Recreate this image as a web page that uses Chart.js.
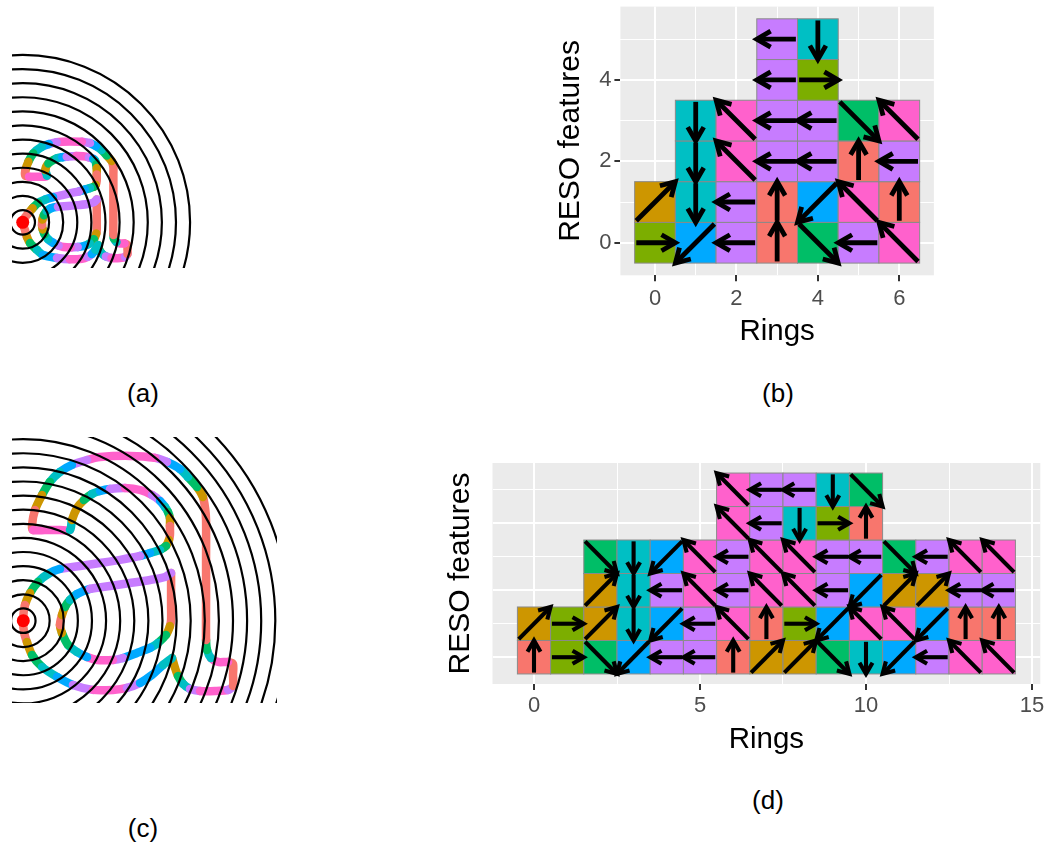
<!DOCTYPE html>
<html lang="en">
<head>
<meta charset="utf-8">
<title>RESO features by ring</title>
<script src="https://cdn.jsdelivr.net/npm/chart.js@4.4.1/dist/chart.umd.min.js"></script>
<style>
  html, body { margin: 0; padding: 0; background: #ffffff; }
  body { position: relative; width: 1057px; height: 844px; overflow: hidden;
         font-family: "Liberation Sans", Arial, sans-serif; }
  canvas { position: absolute; }
  .caption { position: absolute; font-size: 26px; line-height: 1; color: #000;
             transform: translate(-50%, -50%); white-space: nowrap; }
</style>
</head>
<body>
<canvas id="trackA" width="184" height="216" style="left:12px;top:52px"></canvas>
<canvas id="tilesB" width="400" height="370" style="left:540px;top:-20px"></canvas>
<canvas id="trackC" width="265" height="266" style="left:12px;top:437px"></canvas>
<canvas id="tilesD" width="627" height="310" style="left:430px;top:450px"></canvas>
<div class="caption" style="left:143px;top:393px">(a)</div>
<div class="caption" style="left:778px;top:393px">(b)</div>
<div class="caption" style="left:143px;top:828px">(c)</div>
<div class="caption" style="left:768px;top:800px">(d)</div>
<script>
// ---- heading palette and unit vectors -------------------------------------
const headingColors = {
  N: '#F8766D', NE: '#CD9600', E: '#7CAE00', SE: '#00BE67',
  S: '#00BFC4', SW: '#00A9FF', W: '#C77CFF', NW: '#FF61CC'
};
const headingVectors = {
  N: [0, 1], NE: [1, 1], E: [1, 0], SE: [1, -1],
  S: [0, -1], SW: [-1, -1], W: [-1, 0], NW: [-1, 1]
};

// ---- (a) short trajectory, in ring units around the origin ----------------
const ringRadiiA = [0.87, 1.87, 2.87, 3.87, 4.87, 5.87, 6.87, 7.87, 8.87, 9.87, 10.87, 11.87];
const originA = [{ x: 0, y: 0 }];
const trackA = [
  [5.34, -1.61, 'NE'], [5.42, -1.92, 'SE'], [5.60, -2.20, 'S'], [5.90, -2.42, 'W'],
  [6.30, -2.53, 'NW'], [6.90, -2.53, 'NW'], [7.25, -2.46, 'W'], [7.43, -2.25, 'N'],
  [7.43, -1.90, 'N'], [7.43, -1.62, 'N'], [7.22, -1.50, 'NW'], [6.92, -1.50, 'NW'],
  [6.65, -1.40, 'S'], [6.47, -1.15, 'SE'], [6.43, -0.90, 'N'], [6.43, 0.50, 'N'],
  [6.43, 2.00, 'N'], [6.43, 3.40, 'N'], [6.43, 3.92, 'N'], [6.30, 4.35, 'NE'],
  [5.96, 4.74, 'SE'], [5.60, 5.13, 'S'], [5.20, 5.40, 'SW'], [4.77, 5.62, 'W'],
  [4.20, 5.72, 'NW'], [3.35, 5.74, 'NW'], [2.80, 5.72, 'NW'], [2.41, 5.68, 'W'],
  [1.85, 5.55, 'SW'], [1.35, 5.36, 'S'], [0.75, 4.89, 'SE'], [0.40, 4.30, 'NE'],
  [0.18, 3.65, 'N'], [0.20, 3.28, 'N'], [0.45, 3.23, 'NW'], [1.00, 3.23, 'NW'],
  [1.55, 3.23, 'NW'], [1.72, 3.30, 'S'], [1.60, 3.71, 'NE'], [1.82, 4.18, 'SE'],
  [2.41, 4.54, 'S'], [2.80, 4.62, 'SW'], [3.12, 4.65, 'W'], [3.80, 4.70, 'NW'],
  [4.30, 4.68, 'NW'], [4.70, 4.60, 'W'], [5.00, 4.50, 'SW'], [5.13, 4.38, 'S'],
  [5.22, 4.10, 'SE'], [5.25, 3.85, 'NE'], [5.25, 3.40, 'N'], [5.25, 2.95, 'N'],
  [5.18, 2.65, 'NE'], [5.05, 2.52, 'SE'], [4.77, 2.43, 'S'], [4.40, 2.32, 'SW'],
  [4.00, 2.20, 'W'], [3.40, 2.07, 'W'], [2.80, 1.93, 'W'], [2.15, 1.79, 'SW'],
  [1.60, 1.62, 'S'], [1.09, 1.37, 'SE'], [0.70, 1.00, 'NE'], [0.38, 0.62, 'N'],
  [0.10, 0.25, 'N'], [0.02, -0.10, 'N'], [0.16, -0.55, 'N'], [0.30, -1.04, 'NE'],
  [0.52, -1.47, 'SE'], [1.01, -1.96, 'S'], [1.44, -2.32, 'SW'], [2.43, -2.53, 'W'],
  [3.35, -2.62, 'NW'], [4.20, -2.58, 'NW'], [4.60, -2.45, 'W'], [4.90, -2.25, 'SW'],
  [5.15, -1.95, 'S'], [5.34, -1.61, 'NE']
];
const loopA = [
  [5.25, 1.62, 'N'], [5.25, 0.80, 'N'], [5.25, 0.00, 'N'], [5.25, -0.55, 'N'],
  [5.22, -0.80, 'NE'], [5.05, -1.20, 'SE'], [4.75, -1.50, 'S'], [4.35, -1.68, 'SW'],
  [3.90, -1.75, 'W'], [3.40, -1.78, 'NW'], [2.90, -1.75, 'NW'], [2.55, -1.65, 'W'],
  [2.15, -1.45, 'SW'], [1.80, -1.20, 'S'], [1.55, -0.85, 'SE'], [1.42, -0.50, 'NE'],
  [1.37, -0.20, 'N'], [1.40, 0.20, 'NE'], [1.50, 0.50, 'SE'], [1.70, 0.80, 'S'],
  [2.00, 1.00, 'SW'], [2.50, 1.10, 'W'], [3.20, 1.15, 'W'], [3.90, 1.22, 'W'],
  [4.60, 1.30, 'W'], [5.05, 1.42, 'W'], [5.25, 1.62, 'N']
];

// ---- (c) long trajectory, in ring units around the origin -----------------
const ringRadiiC = [0.87, 1.87, 2.87, 3.87, 4.87, 5.87, 6.87, 7.87, 8.87, 9.87,
                    10.87, 11.87, 12.87, 13.87, 14.87, 15.87, 16.87, 17.87, 18.87];
const originC = [{ x: 0, y: 0 }];
const trackC = [
  [10.55, -2.65, 'NE'], [10.76, -3.35, 'NE'], [10.97, -3.92, 'SE'], [11.33, -4.49, 'S'],
  [11.82, -4.84, 'W'], [12.53, -4.99, 'NW'], [13.60, -4.99, 'NW'], [14.52, -4.91, 'W'],
  [14.87, -4.63, 'N'], [14.87, -3.85, 'N'], [14.87, -3.07, 'N'], [14.52, -2.93, 'NW'],
  [13.81, -2.93, 'NW'], [13.31, -2.65, 'S'], [13.03, -2.08, 'SE'], [12.96, -1.37, 'N'],
  [12.96, 1.47, 'N'], [12.96, 4.31, 'N'], [12.96, 7.14, 'N'], [12.89, 7.99, 'N'],
  [12.74, 8.77, 'NE'], [12.32, 9.48, 'SE'], [11.68, 10.19, 'S'], [11.11, 10.76, 'SW'],
  [10.19, 11.26, 'W'], [9.34, 11.55, 'NW'], [7.57, 11.69, 'NW'], [5.44, 11.61, 'NW'],
  [4.52, 11.40, 'W'], [3.45, 11.05, 'SW'], [2.60, 10.55, 'S'], [1.89, 9.84, 'SE'],
  [1.33, 8.91, 'NE'], [0.83, 7.85, 'N'], [0.62, 6.79, 'N'], [0.69, 6.43, 'NW'],
  [1.54, 6.43, 'NW'], [2.60, 6.43, 'NW'], [3.31, 6.43, 'S'], [3.45, 7.14, 'NE'],
  [3.81, 7.99, 'NE'], [4.30, 8.56, 'SE'], [4.87, 8.99, 'S'], [5.44, 9.20, 'SW'],
  [6.15, 9.34, 'W'], [7.21, 9.41, 'NW'], [8.28, 9.27, 'NW'], [9.13, 8.91, 'W'],
  [9.70, 8.49, 'SW'], [10.05, 8.06, 'S'], [10.26, 7.71, 'SE'], [10.40, 7.28, 'NE'],
  [10.40, 6.72, 'N'], [10.40, 6.08, 'N'], [10.33, 5.72, 'NE'], [10.12, 5.30, 'SE'],
  [9.70, 5.02, 'S'], [8.99, 4.80, 'SW'], [8.28, 4.59, 'W'], [6.86, 4.31, 'W'],
  [5.44, 4.09, 'W'], [4.02, 3.88, 'W'], [2.60, 3.67, 'SW'], [1.75, 3.31, 'S'],
  [1.04, 2.74, 'SE'], [0.48, 1.96, 'NE'], [0.12, 1.11, 'N'], [-0.02, 0.05, 'N'],
  [0.05, -0.80, 'N'], [0.26, -1.52, 'NE'], [0.62, -2.43, 'SE'], [1.33, -3.28, 'S'],
  [2.39, -3.99, 'SW'], [3.52, -4.56, 'W'], [4.94, -4.91, 'NW'], [6.36, -4.91, 'NW'],
  [7.35, -4.77, 'W'], [8.28, -4.42, 'SW'], [9.13, -3.85, 'SW'], [9.91, -3.14, 'S'],
  [10.55, -2.65, 'NE']
];
const loopC = [
  [10.48, 3.38, 'N'], [10.48, 2.17, 'N'], [10.48, 1.11, 'N'], [10.48, 0.05, 'N'],
  [10.40, -0.38, 'NE'], [10.12, -1.01, 'SE'], [9.55, -1.58, 'S'], [8.99, -1.93, 'SW'],
  [8.06, -2.29, 'SW'], [7.07, -2.65, 'W'], [6.36, -2.79, 'NW'], [5.23, -2.79, 'NW'],
  [4.52, -2.58, 'SW'], [3.81, -2.22, 'S'], [3.17, -1.72, 'SE'], [2.74, -0.87, 'NE'],
  [2.60, -0.30, 'N'], [2.74, 0.40, 'NE'], [2.96, 0.97, 'SE'], [3.31, 1.47, 'S'],
  [3.81, 1.89, 'SW'], [4.73, 2.25, 'W'], [6.15, 2.46, 'W'], [7.57, 2.67, 'W'],
  [8.99, 2.89, 'W'], [10.05, 3.10, 'W'], [10.48, 3.38, 'N']
];

// ---- (b) heading per ring, listed from feature 0 upward -------------------
const ringsB = [0, 1, 2, 3, 4, 5, 6];
const headingsB = [
  ['E', 'NE'],
  ['SW', 'S', 'S', 'S'],
  ['W', 'W', 'NW', 'NW'],
  ['N', 'N', 'W', 'W', 'W', 'W'],
  ['SE', 'SW', 'W', 'W', 'E', 'S'],
  ['W', 'NW', 'N', 'SE'],
  ['NW', 'N', 'W', 'NW']
];
const xMajorB = [0, 2, 4, 6], xMinorB = [1, 3, 5];
const yMajorB = [0, 2, 4], yMinorB = [1, 3, 5];

// ---- (d) heading per ring, listed from feature 0 upward -------------------
const ringsD = [0, 1, 2, 3, 4, 5, 6, 7, 8, 9, 10, 11, 12, 13, 14];
const headingsD = [
  ['N', 'NE'],
  ['E', 'E'],
  ['SE', 'NE', 'NE', 'SE'],
  ['SW', 'S', 'S', 'S'],
  ['W', 'SW', 'W', 'SW'],
  ['W', 'W', 'NW', 'NW'],
  ['N', 'NW', 'W', 'W', 'NW', 'NW'],
  ['NE', 'N', 'NW', 'NW', 'W', 'W'],
  ['NE', 'E', 'NW', 'NW', 'S', 'W'],
  ['SE', 'SW', 'W', 'W', 'E', 'S'],
  ['S', 'NW', 'SW', 'W', 'N', 'SE'],
  ['SW', 'NW', 'NE', 'SE'],
  ['W', 'SW', 'NE', 'W'],
  ['NW', 'N', 'W', 'NW'],
  ['NW', 'N', 'W', 'NW']
];
const xMajorD = [0, 5, 10, 15], xMinorD = [2.5, 7.5, 12.5];
const yMajorD = [0, 2, 4], yMinorD = [1, 3, 5];

// ---- shared drawing ------------------------------------------------------
Chart.defaults.font.family = '"Liberation Sans", Arial, sans-serif';

// concentric rings around the origin, stroked over the trajectory
const ringPlugin = {
  id: 'rings',
  afterDatasetsDraw(chart, args, opts) {
    const { ctx, chartArea: a, scales: { x, y } } = chart;
    const cx = x.getPixelForValue(0), cy = y.getPixelForValue(0);
    ctx.save();
    ctx.beginPath();
    ctx.rect(a.left, a.top, a.width, a.height);
    ctx.clip();
    ctx.strokeStyle = '#000000';
    ctx.lineWidth = 2.2;
    opts.radii.forEach(r => {
      const pr = x.getPixelForValue(r) - cx;
      ctx.beginPath();
      ctx.arc(cx, cy, pr, 0, Math.PI * 2);
      ctx.stroke();
    });
    ctx.restore();
  }
};

function trackChart(id, paths, origin, radii, xRange, yRange) {
  const datasets = paths.map(path => ({
    data: path.map(([x, y, heading]) => ({ x, y, heading })),
    showLine: true,
    pointRadius: 0,
    borderWidth: 8.5,
    borderColor: headingColors[path[0][2]],
    borderCapStyle: 'round',
    borderJoinStyle: 'round',
    tension: 0.25,
    segment: { borderColor: c => headingColors[path[c.p0DataIndex][2]] },
    order: 1
  }));
  datasets.push({
    data: origin,
    pointRadius: 6.5,
    pointBackgroundColor: '#FF0000',
    pointBorderWidth: 0,
    order: 0
  });
  return new Chart(document.getElementById(id), {
    type: 'scatter',
    data: { datasets },
    options: {
      responsive: false, animation: false, events: [],
      layout: { padding: 0, autoPadding: false },
      plugins: { legend: { display: false }, tooltip: { enabled: false }, rings: { radii } },
      scales: {
        x: { type: 'linear', display: false, min: xRange[0], max: xRange[1] },
        y: { type: 'linear', display: false, min: yRange[0], max: yRange[1] }
      }
    },
    plugins: [ringPlugin]
  });
}

function drawArrow(ctx, x0, y0, x1, y1, lw, head) {
  const ang = Math.atan2(y1 - y0, x1 - x0);
  const wing = Math.PI / 6;
  ctx.strokeStyle = '#000000';
  ctx.lineWidth = lw;
  ctx.lineCap = 'butt';
  ctx.lineJoin = 'miter';
  ctx.beginPath();
  ctx.moveTo(x0, y0);
  ctx.lineTo(x1 - Math.cos(ang) * lw * 0.6, y1 - Math.sin(ang) * lw * 0.6);
  ctx.stroke();
  ctx.beginPath();
  ctx.moveTo(x1 - head * Math.cos(ang - wing), y1 - head * Math.sin(ang - wing));
  ctx.lineTo(x1, y1);
  ctx.lineTo(x1 - head * Math.cos(ang + wing), y1 - head * Math.sin(ang + wing));
  ctx.stroke();
}

// grey panel, then one coloured tile and arrow per (ring, feature) cell
const tilePlugin = {
  id: 'headingTiles',
  beforeDraw(chart) {
    const { ctx, chartArea: a } = chart;
    ctx.save();
    ctx.fillStyle = '#EBEBEB';
    ctx.fillRect(a.left, a.top, a.width, a.height);
    ctx.restore();
  },
  afterDatasetsDraw(chart, args, opts) {
    const { ctx, scales: { x, y } } = chart;
    const cells = chart.data.datasets[0].data;
    ctx.save();
    cells.forEach(c => {
      const l = x.getPixelForValue(c.x - 0.5), r = x.getPixelForValue(c.x + 0.5);
      const t = y.getPixelForValue(c.y + 0.5), b = y.getPixelForValue(c.y - 0.5);
      ctx.fillStyle = headingColors[c.heading];
      ctx.fillRect(l, t, r - l, b - t);
      ctx.strokeStyle = '#8A8A8A';
      ctx.lineWidth = 1;
      ctx.strokeRect(l, t, r - l, b - t);
    });
    cells.forEach(c => {
      const [dx, dy] = headingVectors[c.heading];
      drawArrow(ctx,
        x.getPixelForValue(c.x - 0.46 * dx), y.getPixelForValue(c.y - 0.46 * dy),
        x.getPixelForValue(c.x + 0.5 * dx), y.getPixelForValue(c.y + 0.5 * dy),
        opts.arrowWidth, opts.arrowHead);
    });
    ctx.restore();
  }
};

function tileChart(id, rings, headings, cfg) {
  const canvas = document.getElementById(id);
  const W = canvas.width, H = canvas.height;
  const cells = [];
  rings.forEach((ring, i) => headings[i].forEach((h, k) => cells.push({ x: ring, y: k, heading: h })));
  const xTicks = [...cfg.xMajor, ...cfg.xMinor].sort((a, b) => a - b);
  const yTicks = [...cfg.yMajor, ...cfg.yMinor].sort((a, b) => a - b);
  const gridFor = (major, marks) => ({
    color: '#FFFFFF',
    lineWidth: c => major.includes(c.tick.value) ? 2 : 1,
    drawTicks: marks,
    tickLength: 6,
    tickWidth: 2,
    tickColor: c => major.includes(c.tick.value) ? '#333333' : 'rgba(0,0,0,0)'
  });
  return new Chart(canvas, {
    type: 'scatter',
    data: { datasets: [{ data: cells, pointRadius: 0, pointHoverRadius: 0 }] },
    options: {
      responsive: false, animation: false, events: [],
      layout: { padding: { left: 0, top: cfg.area.top, right: W - cfg.area.right, bottom: 0 } },
      plugins: {
        legend: { display: false }, tooltip: { enabled: false },
        headingTiles: { arrowWidth: cfg.arrowWidth, arrowHead: cfg.arrowHead }
      },
      scales: {
        x: {
          type: 'linear', min: cfg.xRange[0], max: cfg.xRange[1],
          afterBuildTicks: s => { s.ticks = xTicks.map(v => ({ value: v })); },
          afterFit: s => { s.height = H - cfg.area.bottom; },
          border: { display: false },
          grid: gridFor(cfg.xMajor, true),
          ticks: {
            autoSkip: false, maxRotation: 0, minRotation: 0, padding: cfg.xLabelPad,
            color: '#4D4D4D', font: { size: 22 },
            callback: v => cfg.xMajor.includes(v) ? String(v) : ''
          },
          title: { display: true, text: 'Rings', color: '#000000', font: { size: 29.5 },
                   padding: { top: 0, bottom: cfg.xTitlePad } }
        },
        y: {
          type: 'linear', min: cfg.yRange[0], max: cfg.yRange[1],
          afterBuildTicks: s => { s.ticks = yTicks.map(v => ({ value: v })); },
          afterFit: s => { s.width = cfg.area.left; },
          border: { display: false },
          grid: gridFor(cfg.yMajor, cfg.yLabels),
          ticks: {
            display: cfg.yLabels, autoSkip: false, padding: 3,
            color: '#4D4D4D', font: { size: 22 },
            callback: v => cfg.yMajor.includes(v) ? String(v) : ''
          },
          title: { display: true, text: 'RESO features', color: '#000000', font: { size: 30 },
                   padding: { top: cfg.yTitlePad, bottom: 0 } }
        }
      }
    },
    plugins: [tilePlugin]
  });
}

// ---- panels ----------------------------------------------------------------
trackChart('trackA', [trackA, loopA], originA, ringRadiiA, [-0.76, 12.29], [-3.24, 12.08]);
trackChart('trackC', [trackC, loopC], originC, ringRadiiC, [-0.80, 17.99], [-5.84, 13.03]);

tileChart('tilesB', ringsB, headingsB, {
  area: { left: 80.4, top: 26.6, right: 393.9, bottom: 295.3 },
  xRange: [-0.85, 6.85], yRange: [-0.8, 5.8],
  xMajor: xMajorB, xMinor: xMinorB, yMajor: yMajorB, yMinor: yMinorB,
  yLabels: true, xLabelPad: 4.5, xTitlePad: 0.6, yTitlePad: 12.5,
  arrowWidth: 4.8, arrowHead: 16
});

tileChart('tilesD', ringsD, headingsD, {
  area: { left: 62.5, top: 13, right: 610.3, bottom: 234 },
  xRange: [-1.25, 15.25], yRange: [-0.8, 5.8],
  xMajor: xMajorD, xMinor: xMinorD, yMajor: yMajorD, yMinor: yMinorD,
  yLabels: false, xLabelPad: 3, xTitlePad: 2.6, yTitlePad: 13,
  arrowWidth: 4.1, arrowHead: 13
});
</script>
</body>
</html>
